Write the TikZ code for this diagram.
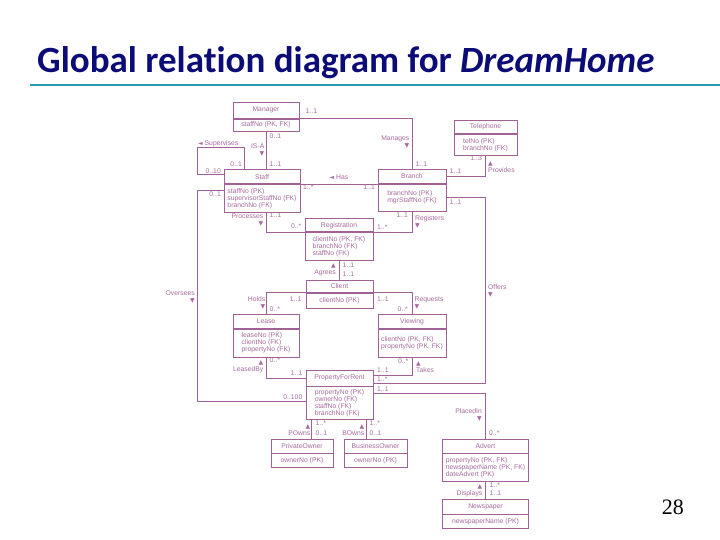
\documentclass[tikz,border=0pt]{standalone}
\usepackage{fontspec}
\setmainfont{Liberation Serif}
\newfontfamily\dhsans{Liberation Sans}
\newfontfamily\dhsym{DejaVu Sans}
\newfontfamily\dhtitle{Carlito}[RawFeature={-liga;-clig;-calt;-dlig;-rlig}]
\usetikzlibrary{positioning}

\definecolor{dhmauve}{RGB}{160,98,150}
\definecolor{dhtext}{RGB}{168,106,158}
\definecolor{titleblue}{RGB}{12,12,120}
\definecolor{ruleteal}{RGB}{40,155,175}

\newcommand{\dhfont}{\dhsans\fontsize{6.8}{7}\selectfont}
\newcommand{\dn}{{\dhsym\fontsize{6}{6}\selectfont ▼}}
\newcommand{\up}{{\dhsym\fontsize{6}{6}\selectfont ▲}}
\newcommand{\lft}{{\dhsym\fontsize{6}{6}\selectfont ◄}}

\tikzset{
    enthead/.style={draw=dhmauve, line width=0.7pt, text=dhtext, font=\dhfont,
        minimum height=14pt, inner sep=0pt, anchor=north},
    entbody/.style={draw=dhmauve, line width=0.7pt, text=dhtext, font=\dhfont,
        align=left, inner xsep=3pt, inner ysep=1pt},
    mult/.style={text=dhtext, font=\dhfont, inner sep=0.5pt},
    rel/.style={text=dhtext, font=\dhfont, inner sep=0.5pt},
    link/.style={draw=dhmauve, line width=0.7pt},
}

\begin{document}
\begin{tikzpicture}[x=1pt, y=-1pt]
    \useasboundingbox (0,0) rectangle (720,540);
    \fill[white] (0,0) rectangle (720,540);

    % title
    \node[anchor=base west, inner sep=0pt, text=titleblue,
          font=\dhtitle\bfseries\fontsize{37}{40}\selectfont] (title) at (37,73)
          {Global relation diagram for \textit{DreamHome}};
    \draw[ruleteal, line width=2pt] (30,85) -- (720,85);
    \node[anchor=base east, inner sep=0pt, font=\fontsize{22}{24}\selectfont] (pgnum) at (684,514) {28};

    % relations
    \node[enthead, minimum width=66pt, minimum height=16pt] (mgr) at (266,102) {Manager};
    \node[entbody, minimum width=66pt, minimum height=12pt, below=0pt of mgr] (mgratt) {staffNo (PK, FK)};

    \node[enthead, minimum width=76pt] (staff) at (262,169.5) {Staff};
    \node[entbody, minimum width=76pt, minimum height=28pt, below=0pt of staff] (staffatt)
        {staffNo (PK)\\supervisorStaffNo (FK)\\branchNo (FK)};

    \node[enthead, minimum width=68pt] (branch) at (412,169) {Branch};
    \node[entbody, minimum width=68pt, minimum height=27pt, below=0pt of branch] (branchatt)
        {branchNo (PK)\\mgrStaffNo (FK)};

    \node[enthead, minimum width=63pt, minimum height=13.5pt] (tel) at (485.5,120) {Telephone};
    \node[entbody, minimum width=63pt, minimum height=21pt, below=0pt of tel] (telatt)
        {telNo (PK)\\branchNo (FK)};

    \node[enthead, minimum width=68pt, minimum height=13pt] (reg) at (339,218.5) {Registration};
    \node[entbody, minimum width=68pt, minimum height=28pt, below=0pt of reg] (regatt)
        {clientNo (PK, FK)\\branchNo (FK)\\staffNo (FK)};

    \node[enthead, minimum width=67pt, minimum height=12.5pt] (client) at (339.5,279.5) {Client};
    \node[entbody, minimum width=67pt, minimum height=15pt, below=0pt of client] (clientatt) {clientNo (PK)};

    \node[enthead, minimum width=66pt] (lease) at (266,314) {Lease};
    \node[entbody, minimum width=66pt, minimum height=28pt, below=0pt of lease] (leaseatt)
        {leaseNo (PK)\\clientNo (FK)\\propertyNo (FK)};

    \node[enthead, minimum width=68pt] (view) at (412,314) {Viewing};
    \node[entbody, minimum width=68pt, minimum height=28pt, below=0pt of view] (viewatt)
        {clientNo (PK, FK)\\propertyNo (PK, FK)};

    \node[enthead, minimum width=67pt, minimum height=15.5pt] (pfr) at (339.5,370) {PropertyForRent};
    \node[entbody, minimum width=67pt, minimum height=32.5pt, below=0pt of pfr] (pfratt)
        {propertyNo (PK)\\ownerNo (FK)\\staffNo (FK)\\branchNo (FK)};

    \node[enthead, minimum width=62pt] (pown) at (302,438.5) {PrivateOwner};
    \node[entbody, minimum width=62pt, minimum height=13.5pt, below=0pt of pown] (pownatt) {ownerNo (PK)};

    \node[enthead, minimum width=63pt] (bown) at (375.5,438.5) {BusinessOwner};
    \node[entbody, minimum width=63pt, minimum height=13.5pt, below=0pt of bown] (bownatt) {ownerNo (PK)};

    \node[enthead, minimum width=85.5pt] (advert) at (485.5,438.5) {Advert};
    \node[entbody, minimum width=85.5pt, minimum height=27.5pt, below=0pt of advert] (advertatt)
        {propertyNo (PK, FK)\\newspaperName (PK, FK)\\dateAdvert (PK)};

    \node[enthead, minimum width=85.5pt, minimum height=14.5pt] (news) at (485.5,499) {Newspaper};
    \node[entbody, minimum width=85.5pt, minimum height=14pt, below=0pt of news] (newsatt) {newspaperName (PK)};

    % turning points
    \coordinate (sup1) at (244,147);
    \coordinate (sup2) at (197,147);
    \coordinate (sup3) at (197,174);
    \coordinate (ovtop) at (197,190.5);
    \coordinate (ovbot) at (197,401);
    \coordinate (offc) at (485.5,383.5);
    \coordinate (plc) at (485.5,393.5);
    \coordinate (po) at (311.5,428);
    \coordinate (bo) at (366,428);

    % links
    \draw[link] (mgr.south east) -| (branch.north);
    \draw[link] (mgratt.south) -- (mgratt.south |- staff.north);
    \draw[link] (staff.north -| sup1) -- (sup1) -- (sup2) -- (sup3) -- (staff.west |- sup3);
    \draw[link] (staff.south east) -- (staff.south east -| branch.west);
    \draw[link] (branch.east) -| (telatt.south);
    \draw[link] (branchatt.east) -| (offc) -- (offc -| pfr.east);
    \draw[link] (staffatt.west |- ovtop) -- (ovtop) -- (ovbot) -- (pfratt.west |- ovbot);
    \draw[link] (staffatt.south -| lease.north) |- (reg.south west);
    \draw[link] (branchatt.south) |- (reg.south east);
    \draw[link] (regatt.south) -- (regatt.south |- client.north);
    \draw[link] (client.south west) -| (lease.north);
    \draw[link] (client.south east) -| (view.north);
    \draw[link] (leaseatt.south) |- (pfr.west);
    \draw[link] (viewatt.south) |- ([yshift=3.25pt]pfr.east);
    \draw[link] (pfratt.east |- plc) -- (plc) -- (advert.north);
    \draw[link] (pfratt.south -| po) -- (pown.north -| po);
    \draw[link] (pfratt.south -| bo) -- (bown.north -| bo);
    \draw[link] (advertatt.south) -- (news.north);

    % relationship names
    \node[rel, anchor=west] (supv) at (197.5,143.5) {\lft\ Supervises};
    \node[rel, anchor=north east, align=right] (isa) at (265,143.5) {IS-A\\\dn};
    \node[rel, anchor=north east, align=right] (manages) at (410,134.8) {Manages\\\dn};
    \node[rel] (has) at (339,177.3) {\lft\ Has};
    \node[rel, anchor=south west, align=left] (provides) at (487.5,173) {\up\\Provides};
    \node[rel, anchor=north east, align=right] (processes) at (264,213.5) {Processes\\\dn};
    \node[rel, anchor=north west, align=left] (registers) at (414.5,215) {Registers\\\dn};
    \node[rel, anchor=south east, align=right] (agrees) at (336.5,277) {\up\\Agrees};
    \node[rel, anchor=north east, align=right] (oversees) at (195.5,290) {Oversees\\\dn};
    \node[rel, anchor=north west, align=left] (offers) at (487.5,283.5) {Offers\\\dn};
    \node[rel, anchor=north east, align=right] (holds) at (266,296) {Holds\\\dn};
    \node[rel, anchor=north west, align=left] (requests) at (414,296) {Requests\\\dn};
    \node[rel, anchor=south east, align=right] (leasedby) at (264,373.5) {\up\\LeasedBy};
    \node[rel, anchor=south west, align=left] (takes) at (415.5,373.5) {\up\\Takes};
    \node[rel, anchor=north east, align=right] (placedin) at (482.5,408) {PlacedIn\\\dn};
    \node[rel, anchor=south east, align=right] (powns) at (311,436.5) {\up\\POwns};
    \node[rel, anchor=south east, align=right] (bowns) at (365,436.5) {\up\\BOwns};
    \node[rel, anchor=south east, align=right] (displays) at (483,497.5) {\up\\Displays};

    % multiplicities
    \foreach \x/\y/\a/\t [count=\i] in {305/110.7/west/1..1, 269/135.7/west/0..1, 269/164/west/1..1,
        242.5/164/east/0..1, 221.5/171/east/0..10, 221.5/194.3/east/0..1, 415/164.3/west/1..1,
        302.5/187.3/west/1..*, 375.5/187.3/east/1..1, 449/171/west/1..1, 482.5/158.3/east/1..3,
        449/202.3/west/1..1, 269/215/west/1..1, 302/225.7/east/0..*, 408.5/215/east/1..1,
        376.5/227.3/west/1..*, 342/265/west/1..1, 342/274/west/1..1, 302/299/east/1..1,
        269/309.3/west/0..*, 376.5/299/west/1..1, 408.5/309.3/east/0..*, 269/360/west/0..*,
        303/372.7/east/1..1, 409/361/east/0..*, 376.5/370/west/1..1, 376.5/379/west/1..*,
        376.5/389/west/1..1, 303/396.7/east/0..100, 488.5/432.7/west/0..*, 315/423.3/west/1..*,
        315/432.7/west/0..1, 369/423.3/west/1..*, 369/432.7/west/0..1, 489/485/west/1..*,
        489/493.3/west/1..1} {
        \node[mult, anchor=\a] (m\i) at (\x,\y) {\t};
    }
\end{tikzpicture}
\end{document}
